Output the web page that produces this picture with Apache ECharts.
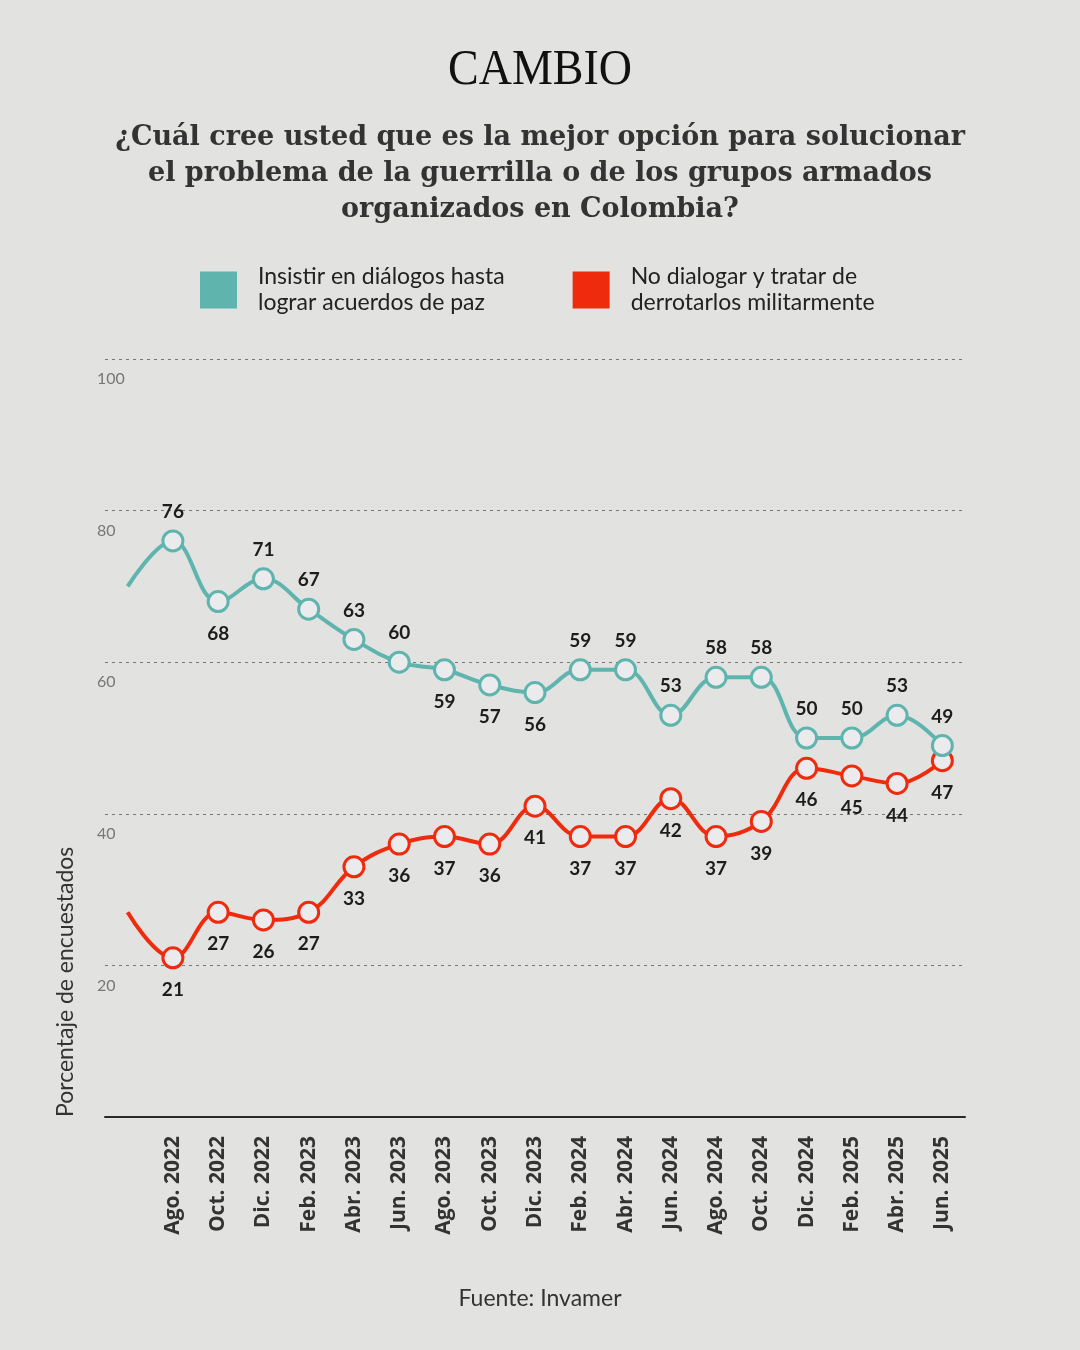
<!DOCTYPE html>
<html>
<head>
<meta charset="utf-8">
<script src="https://cdn.jsdelivr.net/npm/echarts@6/dist/echarts.min.js"></script>
<style>
  html, body { margin: 0; padding: 0; background: #e2e2e1; }
  #chart { width: 1080px; height: 1350px; }
</style>
</head>
<body>
<div id="chart"></div>
<script>
// survey dates (first slot is the earlier point the lines start from, unlabeled)
var months = ['', 'Ago. 2022', 'Oct. 2022', 'Dic. 2022', 'Feb. 2023', 'Abr. 2023', 'Jun. 2023',
  'Ago. 2023', 'Oct. 2023', 'Dic. 2023', 'Feb. 2024', 'Abr. 2024', 'Jun. 2024', 'Ago. 2024',
  'Oct. 2024', 'Dic. 2024', 'Feb. 2025', 'Abr. 2025', 'Jun. 2025'];
var dialogos = [70, 76, 68, 71, 67, 63, 60, 59, 57, 56, 59, 59, 53, 58, 58, 50, 50, 53, 49];
var militar = [27, 21, 27, 26, 27, 33, 36, 37, 36, 41, 37, 37, 42, 37, 39, 46, 45, 44, 47];
// which teal labels sit under the marker
var dialogosBelow = [2, 7, 8, 9];
var yTicks = [0, 20, 40, 60, 80, 100];

var nameDialogos = 'Insistir en diálogos hasta\nlograr acuerdos de paz';
var nameMilitar = 'No dialogar y tratar de\nderrotarlos militarmente';

var TEAL = '#5fb5ae';
var RED = '#ef2b0e';
var DOT = '#ebebee';

function points(values, below) {
  return values.map(function (v, i) {
    if (i === 0) return { value: v, symbol: 'none', label: { show: false } };
    var item = { value: v };
    if (below && below.indexOf(i) >= 0) item.label = { position: 'bottom', distance: 11 };
    return item;
  });
}

var chart = echarts.init(document.getElementById('chart'));

var labelStyle = {
  show: true,
  fontFamily: 'Lato',
  fontWeight: 'bold',
  fontSize: 19,
  color: '#1d1d1d'
};

var option = {
  backgroundColor: '#e2e2e1',
  animation: false,
  textStyle: { fontFamily: 'Lato' },
  graphic: [
    {
      type: 'text', x: 540, y: 46,
      style: { text: 'CAMBIO', fontFamily: 'Liberation Serif', fontSize: 50, fill: '#111', align: 'center' },
      scaleX: 0.92, originX: 0
    },
    {
      type: 'text', x: 540, y: 120,
      style: {
        text: '¿Cuál cree usted que es la mejor opción para solucionar\nel problema de la guerrilla o de los grupos armados\norganizados en Colombia?',
        fontFamily: 'DejaVu Serif', fontWeight: 'bold', fontSize: 27, lineHeight: 36,
        fill: '#333', align: 'center'
      }
    },
    {
      type: 'text', x: 66, y: 1117, rotation: Math.PI / 2,
      style: {
        text: 'Porcentaje de encuestados', fontFamily: 'Lato', fontSize: 23,
        fill: '#333', align: 'left', verticalAlign: 'middle'
      }
    },
    {
      type: 'text', x: 540, y: 1287,
      style: { text: 'Fuente: Invamer', fontFamily: 'Lato', fontSize: 23, fill: '#333', align: 'center' }
    }
  ],
  legend: {
    left: 200, top: 264, padding: 0,
    itemWidth: 37, itemHeight: 37, itemGap: 68,
    icon: 'rect',
    textStyle: { fontFamily: 'Lato', fontSize: 23, lineHeight: 26, color: '#222', padding: [0, 0, 0, 16] },
    data: [
      { name: nameDialogos, itemStyle: { color: TEAL, borderWidth: 0 } },
      { name: nameMilitar, itemStyle: { color: RED, borderWidth: 0 } }
    ]
  },
  grid: { left: 105, right: 115, top: 359, bottom: 233 },
  xAxis: {
    type: 'category',
    data: months,
    boundaryGap: true,
    axisLine: { lineStyle: { color: '#2a2a2a', width: 2 } },
    axisTick: { show: false },
    axisLabel: {
      rotate: 90, interval: 0, margin: 19,
      fontFamily: 'Open Sans', fontWeight: 'bold', fontSize: 21, color: '#333'
    },
    splitLine: { show: false }
  },
  yAxis: {
    type: 'value',
    min: yTicks[0], max: yTicks[yTicks.length - 1], interval: 20,
    axisLine: { show: false },
    axisTick: { show: false },
    axisLabel: {
      inside: true, margin: -8, verticalAlign: 'top', padding: [12, 0, 0, 0],
      fontFamily: 'Lato', fontSize: 16, color: '#777',
      formatter: function (v) { return v === 0 ? '' : String(v); }
    },
    splitLine: { lineStyle: { color: '#777', type: [3, 4], width: 1 } }
  },
  series: [
    {
      name: nameDialogos,
      type: 'line',
      smooth: 0.4,
      z: 4,
      data: points(dialogos, dialogosBelow),
      symbol: 'circle',
      symbolSize: 20,
      lineStyle: { color: TEAL, width: 4 },
      itemStyle: { color: DOT, borderColor: TEAL, borderWidth: 3 },
      label: Object.assign({ position: 'top', distance: 8 }, labelStyle)
    },
    {
      name: nameMilitar,
      type: 'line',
      smooth: 0.4,
      z: 3,
      data: points(militar),
      symbol: 'circle',
      symbolSize: 20,
      lineStyle: { color: RED, width: 4 },
      itemStyle: { color: DOT, borderColor: RED, borderWidth: 3 },
      label: Object.assign({ position: 'bottom', distance: 11 }, labelStyle)
    }
  ]
};

chart.setOption(option);
</script>
</body>
</html>
